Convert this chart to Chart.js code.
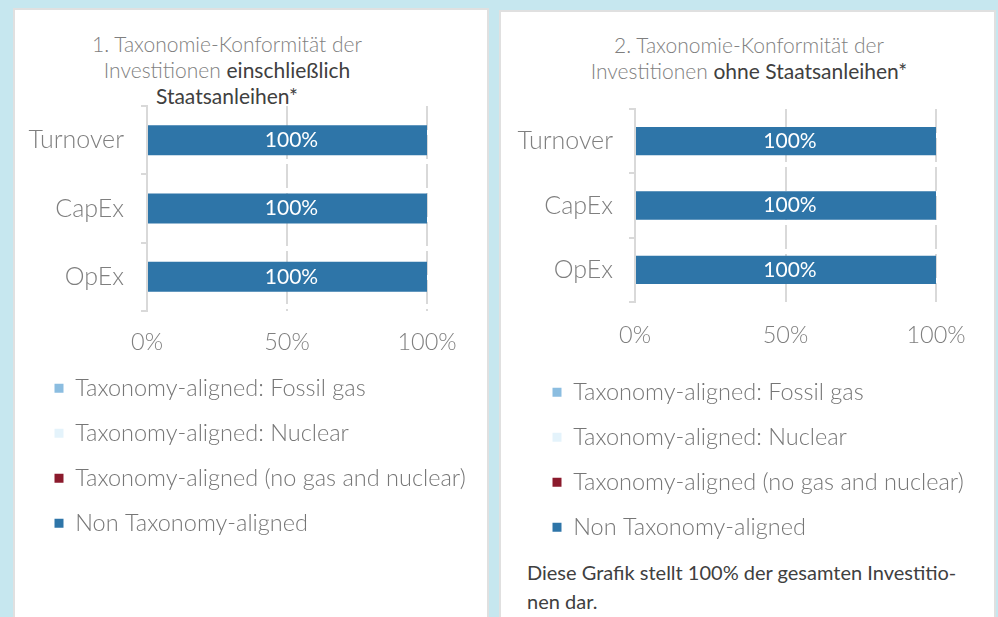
<!DOCTYPE html>
<html>
<head>
<meta charset="utf-8">
<script src="https://cdn.jsdelivr.net/npm/chart.js@4"></script>
<style>
  body { margin: 0; background: #c6e7ef; width: 998px; height: 617px; overflow: hidden; position: relative; font-family: Lato, sans-serif; }
  .panel { position: absolute; background: #fff; border: 2px solid #e0e0e0; box-sizing: border-box; }
  .title { position: absolute; text-align: center; font-size: 21px; font-weight: 300; line-height: 26px; color: #7f7f7f; }
  .title b { font-weight: 400; color: #404040; }
  canvas { position: absolute; }
  .note { position: absolute; left: 527px; top: 558px; font-size: 20px; font-weight: 400; line-height: 29px; color: #404040; }
</style>
</head>
<body>
<div class="panel" style="left:13px;top:8px;width:476px;height:640px;"></div>
<div class="panel" style="left:499px;top:10px;width:497px;height:640px;"></div>

<div class="title" style="left:67px;top:31px;width:320px;">1. Taxonomie-Konformität der<br>Investitionen <b>einschließlich</b><br><b>Staatsanleihen*</b></div>
<div class="title" style="left:569px;top:32px;width:360px;">2. Taxonomie-Konformität der<br>Investitionen <b>ohne Staatsanleihen*</b></div>

<canvas id="chartIncl" width="470" height="445" style="left:15px;top:100px;"></canvas>
<canvas id="chartExcl" width="493" height="449" style="left:501px;top:100px;"></canvas>

<div class="note">Diese Grafik stellt 100% der gesamten Investitio-<br>nen dar.</div>

<script>
const categories = ["Turnover", "CapEx", "OpEx"];
const seriesNames = [
  "Taxonomy-aligned: Fossil gas",
  "Taxonomy-aligned: Nuclear",
  "Taxonomy-aligned (no gas and nuclear)",
  "Non Taxonomy-aligned"
];
const seriesColors = ["#8bbde0", "#e4f3fb", "#8b1a2c", "#2e75a8"];
const xTicks = [0, 50, 100];

// chart 1: incl. sovereign bonds
const fossilGasIncl = [0, 0, 0];
const nuclearIncl = [0, 0, 0];
const alignedIncl = [0, 0, 0];
const nonAlignedIncl = [100, 100, 100];

// chart 2: excl. sovereign bonds
const fossilGasExcl = [0, 0, 0];
const nuclearExcl = [0, 0, 0];
const alignedExcl = [0, 0, 0];
const nonAlignedExcl = [100, 100, 100];

const gridColor = "#d9d9d9";
const labelColor = "#7f7f7f";

// draws the white % inside each non-zero bar
const barLabels = {
  id: "barLabels",
  afterDatasetsDraw(chart) {
    const ctx = chart.ctx;
    ctx.save();
    ctx.fillStyle = "#fff";
    ctx.font = "400 21px Lato, sans-serif";
    ctx.textAlign = "center";
    ctx.textBaseline = "middle";
    chart.data.datasets.forEach((ds, i) => {
      const meta = chart.getDatasetMeta(i);
      meta.data.forEach((bar, j) => {
        if (!ds.data[j]) return;
        ctx.fillText(ds.data[j] + "%", (bar.x + bar.base) / 2 + 4, bar.y);
      });
    });
    ctx.restore();
  }
};

// legend sits further right than the y axis, and may run past the plot
const legendShift = {
  id: "legendShift",
  afterLayout(chart, args, opts) {
    const lg = chart.legend;
    lg.left += opts.dx;
    lg.right = chart.width;
    lg.width = lg.right - lg.left;
  }
};

function makeChart(el, values, cfg) {
  const datasets = values.map((d, i) => ({
    label: seriesNames[i],
    data: d,
    backgroundColor: seriesColors[i],
    borderWidth: 0,
    categoryPercentage: 1,
    barPercentage: 0.44
  }));

  return new Chart(el, {
    type: "bar",
    data: { labels: categories, datasets },
    plugins: [barLabels, legendShift],
    options: {
      indexAxis: "y",
      responsive: false,
      animation: false,
      layout: { padding: { left: 0, top: cfg.top, right: 0, bottom: 0 } },
      plugins: {
        tooltip: { enabled: false },
        legendShift: { dx: cfg.legendDx },
        legend: {
          position: "bottom",
          align: "start",
          labels: {
            boxWidth: 9,
            boxHeight: 9,
            padding: 21.5,
            color: "#767676",
            font: { family: "Lato, sans-serif", size: 23.5, weight: 300 }
          }
        }
      },
      scales: {
        x: {
          stacked: true,
          min: 0,
          max: 100,
          afterBuildTicks: s => { s.ticks = xTicks.map(v => ({ value: v })); },
          afterFit: s => {
            s.height = cfg.xHeight;
            s.paddingLeft = 0;
            s.paddingRight = cfg.right;
          },
          ticks: {
            padding: cfg.xPad,
            color: labelColor,
            font: { family: "Lato, sans-serif", size: 23.5, weight: 300 },
            callback: v => v + "%"
          },
          grid: { color: gridColor, lineWidth: 2, drawTicks: false },
          border: { display: false, dash: [24, 5] }
        },
        y: {
          stacked: true,
          afterFit: s => {
            s.width = cfg.yWidth;
            s.paddingTop = 0;
            s.paddingBottom = 0;
          },
          ticks: {
            padding: cfg.yPad,
            color: labelColor,
            font: { family: "Lato, sans-serif", size: 25, weight: 300 }
          },
          grid: { offset: true, drawOnChartArea: false, tickLength: 6, color: gridColor, lineWidth: 2 },
          border: { display: true, color: gridColor, width: 2 }
        }
      }
    }
  });
}

makeChart(document.getElementById("chartIncl"),
  [fossilGasIncl, nuclearIncl, alignedIncl, nonAlignedIncl],
  { top: 6, right: 58, legendDx: 18, yWidth: 132, yPad: 17, xHeight: 44, xPad: 17 });

makeChart(document.getElementById("chartExcl"),
  [fossilGasExcl, nuclearExcl, alignedExcl, nonAlignedExcl],
  { top: 9, right: 58, legendDx: 30, yWidth: 134, yPad: 16, xHeight: 57, xPad: 19 });
</script>
</body>
</html>
